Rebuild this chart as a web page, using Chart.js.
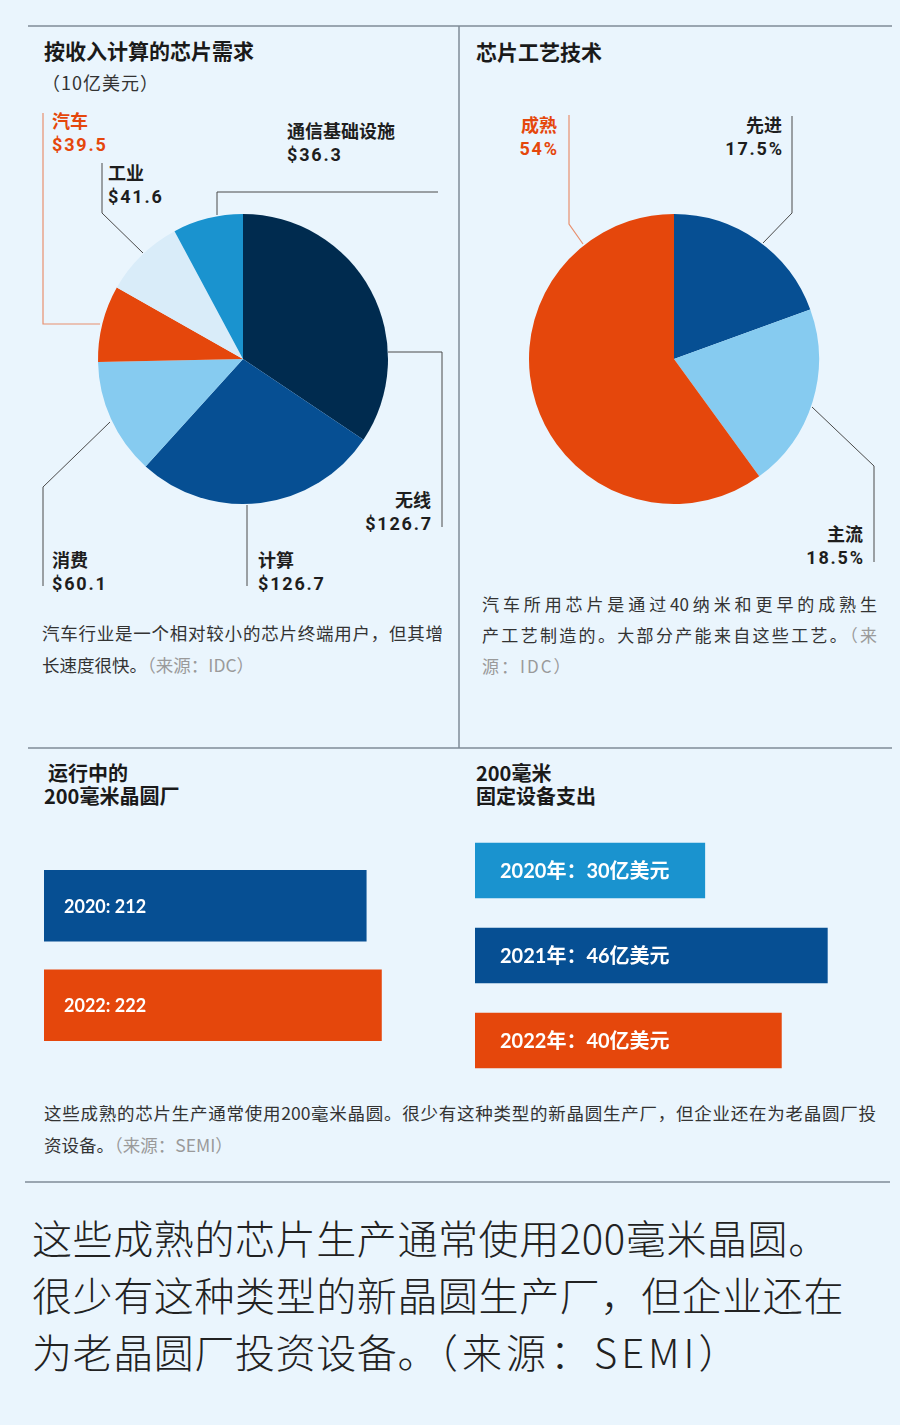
<!DOCTYPE html>
<html lang="zh-CN">
<head>
<meta charset="utf-8">
<title>芯片需求与200毫米晶圆</title>
<script src="https://cdn.jsdelivr.net/npm/chart.js@4.4.1/dist/chart.umd.min.js"></script>
<style>
html,body{margin:0;padding:0;}
body{width:900px;height:1425px;background:#eaf5fd;position:relative;overflow:hidden;
  font-family:"Noto Sans CJK SC","Noto Sans",sans-serif;color:#1e1e1e;}
.t{position:absolute;white-space:nowrap;line-height:1;}
.h{font-size:21px;font-weight:700;color:#1a1a1a;}
.lab{font-size:18px;font-weight:700;color:#1e1e1e;}
.num{font-family:Roboto,"Noto Sans",sans-serif;font-size:18px;font-weight:700;letter-spacing:1.8px;color:#1e1e1e;}
.org{color:#e5470c !important;}
canvas{position:absolute;}
.cap{position:absolute;white-space:nowrap;color:#333;}
.j{text-align:justify;text-align-last:justify;}
.src{color:#9a9a9a;}
svg{position:absolute;left:0;top:0;}
</style>
</head>
<body>

<!-- frame lines and leader lines -->
<svg width="900" height="1425" viewBox="0 0 900 1425">
  <g stroke="#7f8b97" stroke-width="1.5" fill="none">
    <line x1="28" y1="26" x2="892" y2="26"/>
    <line x1="459" y1="26" x2="459" y2="748"/>
    <line x1="28" y1="748" x2="892" y2="748"/>
    <line x1="25" y1="1182" x2="890" y2="1182"/>
  </g>
  <g stroke="#4a4a4a" stroke-width="1" fill="none">
    <polyline points="102,163 102,213 143,253"/>
    <polyline points="438,192 217,192 217,215"/>
    <polyline points="388,352 442,352 442,527"/>
    <polyline points="247,505 247,586"/>
    <polyline points="110,422 43,487 43,586"/>
    <polyline points="792,116 792,213 763,243"/>
    <polyline points="812,407 874,466 874,562"/>
  </g>
  <g stroke="#e8906f" stroke-width="1.2" fill="none">
    <polyline points="43,113 43,324 100,324"/>
    <polyline points="569,115 569,224 583,244"/>
  </g>
</svg>

<!-- chart canvases -->
<canvas id="demandPie" width="300" height="300" style="left:93px;top:209px;width:300px;height:300px"></canvas>
<canvas id="processPie" width="300" height="300" style="left:524px;top:209px;width:300px;height:300px"></canvas>
<canvas id="fabBar" width="380" height="199" style="left:44px;top:856px;width:380px;height:199px"></canvas>
<canvas id="spendBar" width="383" height="255" style="left:475px;top:828px;width:383px;height:255px"></canvas>

<!-- titles -->
<div class="t h" style="left:44px;top:40px">按收入计算的芯片需求</div>
<div class="t" style="left:42px;top:73px;font-size:18px;color:#333;letter-spacing:1px">（10亿美元）</div>
<div class="t h" style="left:476px;top:41px">芯片工艺技术</div>
<div class="t h" style="left:48px;top:763px;font-size:20px">运行中的</div>
<div class="t h" style="left:44px;top:786px;font-size:20px">200毫米晶圆厂</div>
<div class="t h" style="left:476px;top:763px;font-size:20px">200毫米</div>
<div class="t h" style="left:476px;top:786px;font-size:20px">固定设备支出</div>

<div id="pieLabels"></div>

<!-- captions -->
<div class="cap j" style="left:42px;top:617px;width:401px;font-size:17.5px;line-height:32px">汽车行业是一个相对较小的芯片终端用户，但其增</div>
<div class="cap" style="left:42px;top:649px;font-size:17.5px;line-height:32px">长速度很快。<span class="src">（来源：IDC）</span></div>

<div class="cap j" style="left:482px;top:588px;width:395px;font-size:17px;line-height:31px">汽车所用芯片是通过40纳米和更早的成熟生</div>
<div class="cap j" style="left:482px;top:619px;width:395px;font-size:17px;line-height:31px">产工艺制造的。大部分产能来自这些工艺。<span class="src">（来</span></div>
<div class="cap src" style="left:482px;top:650px;font-size:17px;line-height:31px;letter-spacing:2px">源：IDC）</div>

<div class="cap j" style="left:44px;top:1097px;width:832px;font-size:17.5px;line-height:32px">这些成熟的芯片生产通常使用200毫米晶圆。很少有这种类型的新晶圆生产厂，但企业还在为老晶圆厂投</div>
<div class="cap" style="left:44px;top:1129px;font-size:17.5px;line-height:32px">资设备。<span class="src">（来源：SEMI）</span></div>

<div class="cap" style="left:32px;top:1209px;font-size:40px;line-height:57px;font-weight:300;color:#222;letter-spacing:0.6px">这些成熟的芯片生产通常使用200毫米晶圆。<br>很少有这种类型的新晶圆生产厂，但企业还在<br>为老晶圆厂投资设备。<span style="letter-spacing:4px">（来源：SEMI）</span></div>

<script>
// ---------- data ----------
const demandCategories = ['无线', '计算', '消费', '汽车', '工业', '通信基础设施'];
// slice sizes as drawn in the picture (the wireless slice is drawn larger than its printed label)
const demandValues = [159.5, 126.7, 60.1, 39.5, 41.6, 36.3];
const demandValueLabels = ['$126.7', '$126.7', '$60.1', '$39.5', '$41.6', '$36.3'];

const processCategories = ['先进', '主流', '成熟'];
const processValues = [17.5, 18.5, 54];
const processValueLabels = ['17.5%', '18.5%', '54%'];

const fabYears = ['2020', '2022'];
const fabCounts = [212, 222];

const spendYears = ['2020年', '2021年', '2022年'];
const spendValues = [30, 46, 40];
const spendUnit = '亿美元';

// ---------- styles ----------
const NAVY = '#002b4f', BLUE = '#064f93', SKY = '#86cbf0', ORANGE = '#e5470c', PALE = '#d9ecf9', MID = '#1a93cf';
const demandColors = [NAVY, BLUE, SKY, ORANGE, PALE, MID];
const processColors = [BLUE, SKY, ORANGE];

// label placement (layout only)
const demandLabelPos = [
  {r: 469, top: 490},   // 无线
  {l: 258, top: 550},   // 计算
  {l: 52,  top: 550},   // 消费
  {l: 52,  top: 111},   // 汽车
  {l: 108, top: 163},   // 工业
  {l: 287, top: 121}    // 通信基础设施
];
const processLabelPos = [
  {r: 118, top: 115},   // 先进
  {r: 37,  top: 524},   // 主流
  {r: 343, top: 115}    // 成熟
];

function addLabels(cats, vals, pos, orangeIdx) {
  const host = document.getElementById('pieLabels');
  cats.forEach((c, i) => {
    const p = pos[i];
    const side = p.r !== undefined ? 'right:' + p.r + 'px;text-align:right;' : 'left:' + p.l + 'px;';
    const numFix = p.r !== undefined ? 'margin-right:-1.8px;' : '';
    const cls = i === orangeIdx ? ' org' : '';
    host.insertAdjacentHTML('beforeend',
      '<div class="t lab' + cls + '" style="' + side + 'top:' + p.top + 'px">' + c + '</div>' +
      '<div class="t num' + cls + '" style="' + side + numFix + 'top:' + (p.top + 25) + 'px">' + vals[i] + '</div>');
  });
}
addLabels(demandCategories, demandValueLabels, demandLabelPos, 3);
addLabels(processCategories, processValueLabels, processLabelPos, 2);

const noUi = {legend: {display: false}, tooltip: {enabled: false}};

function pie(id, labels, values, colors) {
  return new Chart(document.getElementById(id), {
    type: 'pie',
    data: {labels, datasets: [{data: values, backgroundColor: colors, borderWidth: 0, radius: 145}]},
    options: {responsive: false, animation: false, layout: {padding: 0}, plugins: noUi}
  });
}
pie('demandPie', demandCategories, demandValues, demandColors);
pie('processPie', processCategories, processValues, processColors);

function barText(texts, font, pad) {
  return {
    id: 'barText',
    afterDatasetsDraw(chart) {
      const ctx = chart.ctx;
      const meta = chart.getDatasetMeta(0);
      ctx.save();
      ctx.font = font;
      ctx.fillStyle = '#ffffff';
      ctx.textBaseline = 'middle';
      meta.data.forEach((b, i) => ctx.fillText(texts[i], b.base + pad, b.y + 1));
      ctx.restore();
    }
  };
}

function hbar(id, labels, values, colors, max, thickness, texts, font, pad) {
  return new Chart(document.getElementById(id), {
    type: 'bar',
    data: {labels, datasets: [{data: values, backgroundColor: colors, borderWidth: 0, barThickness: thickness}]},
    options: {
      indexAxis: 'y', responsive: false, animation: false, layout: {padding: 0},
      scales: {x: {display: false, min: 0, max: max}, y: {display: false}},
      plugins: noUi
    },
    plugins: [barText(texts, font, pad)]
  });
}

hbar('fabBar', fabYears, fabCounts, [BLUE, ORANGE], 250, 71,
  fabYears.map((y, i) => y + ': ' + fabCounts[i]), '700 18px Lato, "Noto Sans CJK SC"', 20);

hbar('spendBar', spendYears, spendValues, [MID, BLUE, ORANGE], 50, 55,
  spendYears.map((y, i) => y + '：' + spendValues[i] + spendUnit), '700 20px Lato, "Noto Sans CJK SC"', 25);
</script>
</body>
</html>
